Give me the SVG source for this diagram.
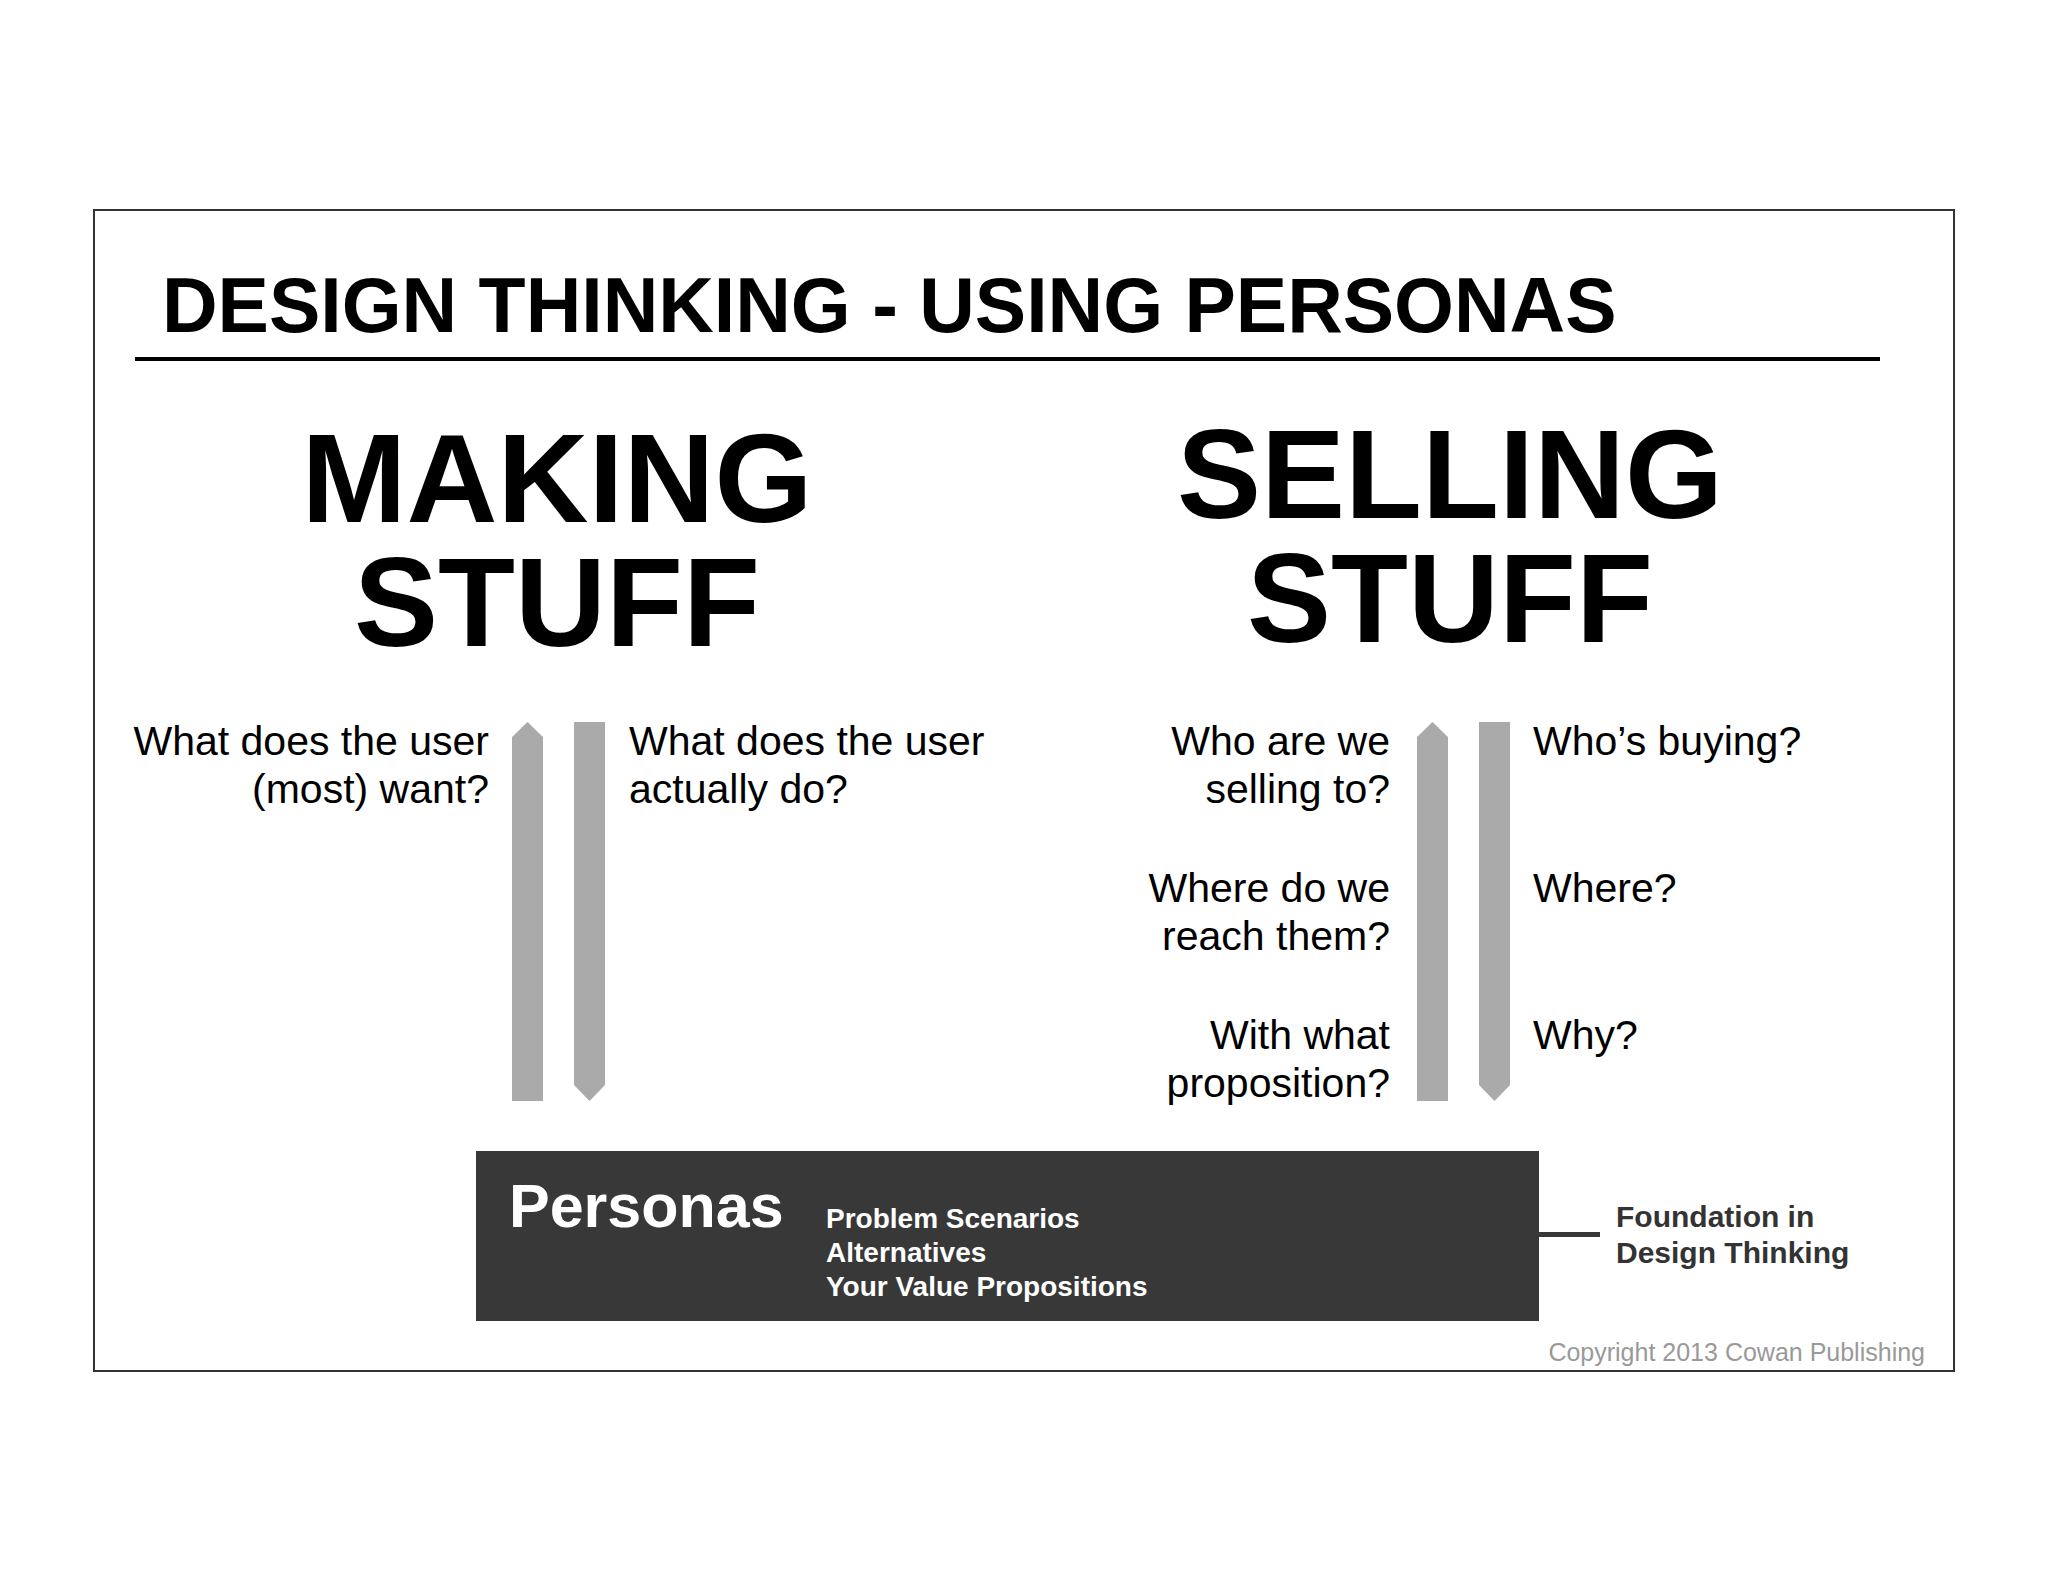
<svg xmlns="http://www.w3.org/2000/svg" width="2048" height="1582" viewBox="0 0 2048 1582">
<style>
text{font-family:"Liberation Sans",Arial,Helvetica,sans-serif;}
.q{font-size:41px;fill:#000;}
.r{text-anchor:end;}
.big{font-size:126px;font-weight:bold;fill:#000;text-anchor:middle;}
.arrow{fill:#aaaaaa;}
.sub{font-size:28px;font-weight:bold;fill:#fff;}
</style>
<rect x="0" y="0" width="2048" height="1582" fill="#fff"/>
<rect id="frame" x="94" y="210" width="1860" height="1161" fill="none" stroke="#333" stroke-width="2"/>
<g id="title">
<text x="162" y="332" font-size="77" font-weight="bold" fill="#000">DESIGN THINKING - USING PERSONAS</text>
<rect x="135" y="357" width="1745" height="4" fill="#000"/>
</g>
<g id="making">
<text class="big"><tspan x="557" y="522">MAKING</tspan><tspan x="557" y="646">STUFF</tspan></text>
</g>
<g id="selling">
<text class="big"><tspan x="1450" y="518">SELLING</tspan><tspan x="1450" y="642">STUFF</tspan></text>
</g>
<g id="making-left">
<text class="q r" x="489" y="755">What does the user</text>
<text class="q r" x="489" y="803">(most) want?</text>
</g>
<g id="making-right">
<text class="q" x="629" y="755">What does the user</text>
<text class="q" x="629" y="803">actually do?</text>
</g>
<g id="selling-left">
<text class="q r" x="1390" y="755">Who are we</text>
<text class="q r" x="1390" y="803">selling to?</text>
<text class="q r" x="1390" y="902">Where do we</text>
<text class="q r" x="1390" y="950">reach them?</text>
<text class="q r" x="1390" y="1049">With what</text>
<text class="q r" x="1390" y="1097">proposition?</text>
</g>
<g id="selling-right">
<text class="q" x="1533" y="755">Who’s buying?</text>
<text class="q" x="1533" y="902">Where?</text>
<text class="q" x="1533" y="1049">Why?</text>
</g>
<g id="connectors">
<polygon class="arrow" points="512,737 527.5,722 543,737 543,1101 512,1101"/>
<polygon class="arrow" points="574,722 605,722 605,1085 589.5,1101 574,1085"/>
<polygon class="arrow" points="1417,737 1432.5,722 1448,737 1448,1101 1417,1101"/>
<polygon class="arrow" points="1479,722 1510,722 1510,1085 1494.5,1101 1479,1085"/>
<rect x="1539" y="1232" width="61" height="5" fill="#383838"/>
</g>
<g id="personas">
<rect x="476" y="1151" width="1063" height="170" fill="#383838"/>
<text x="509" y="1227" font-size="61" font-weight="bold" fill="#fff">Personas</text>
<text class="sub" x="826" y="1228">Problem Scenarios</text>
<text class="sub" x="826" y="1262">Alternatives</text>
<text class="sub" x="826" y="1296">Your Value Propositions</text>
</g>
<g id="foundation">
<text x="1616" y="1227" font-size="30" font-weight="bold" fill="#333">Foundation in</text>
<text x="1616" y="1263" font-size="30" font-weight="bold" fill="#333">Design Thinking</text>
</g>
<text id="copyright" x="1925" y="1361" font-size="25" fill="#999" text-anchor="end">Copyright 2013 Cowan Publishing</text>
</svg>
